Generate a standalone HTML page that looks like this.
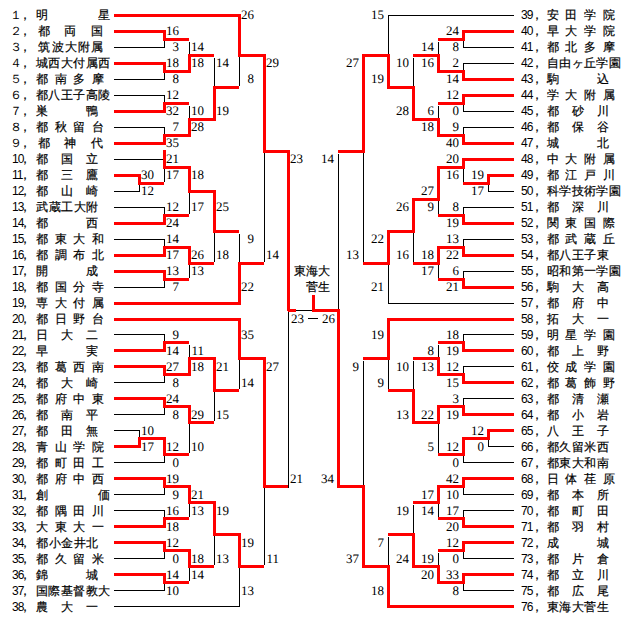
<!DOCTYPE html>
<html><head><meta charset="utf-8"><style>
html,body{margin:0;padding:0;background:#fff;width:640px;height:628px;overflow:hidden}
body{position:relative;font-family:"Liberation Sans",sans-serif}
i{position:absolute;display:block}
b{position:absolute;font-weight:normal;font-family:"Liberation Serif",serif;font-size:13px;line-height:16px;letter-spacing:0px;text-rendering:geometricPrecision;white-space:nowrap;color:#000}
b.sl{width:18px;text-align:right}
b.sr{width:18px;text-align:right}
u{position:absolute;text-decoration:none;-webkit-text-stroke:0.2px #000;font-size:12px;line-height:14px;width:12px;text-align:center;color:#000}
s{position:absolute;text-decoration:none;font-size:12px;line-height:14px;width:12px;text-align:center;color:#000}
s.d2{text-align:left;letter-spacing:-1px;width:auto}
.ch{position:absolute;-webkit-text-stroke:0.2px #000;font-size:12px;line-height:16px;text-align:right;color:#000}
</style></head><body>
<i style="left:238px;top:54px;width:28px;height:3px;background:#ff0000"></i>
<i style="left:114px;top:14px;width:127px;height:3px;background:#ff0000"></i>
<i style="left:213px;top:86px;width:26px;height:3px;background:#ff0000"></i>
<i style="left:188px;top:54px;width:26px;height:3px;background:#ff0000"></i>
<i style="left:163px;top:38px;width:26px;height:3px;background:#ff0000"></i>
<i style="left:114px;top:30px;width:52px;height:3px;background:#ff0000"></i>
<i style="left:114px;top:47px;width:51px;height:1px;background:#000000"></i>
<i style="left:164px;top:41px;width:1px;height:7px;background:#000000"></i>
<i style="left:163px;top:30px;width:3px;height:11px;background:#ff0000"></i>
<i style="left:163px;top:70px;width:28px;height:3px;background:#ff0000"></i>
<i style="left:114px;top:62px;width:52px;height:3px;background:#ff0000"></i>
<i style="left:114px;top:79px;width:51px;height:1px;background:#000000"></i>
<i style="left:164px;top:73px;width:1px;height:7px;background:#000000"></i>
<i style="left:163px;top:62px;width:3px;height:11px;background:#ff0000"></i>
<i style="left:189px;top:42px;width:1px;height:13px;background:#000000"></i>
<i style="left:188px;top:54px;width:3px;height:19px;background:#ff0000"></i>
<i style="left:188px;top:118px;width:28px;height:3px;background:#ff0000"></i>
<i style="left:163px;top:102px;width:26px;height:3px;background:#ff0000"></i>
<i style="left:114px;top:95px;width:51px;height:1px;background:#000000"></i>
<i style="left:114px;top:110px;width:52px;height:3px;background:#ff0000"></i>
<i style="left:164px;top:95px;width:1px;height:8px;background:#000000"></i>
<i style="left:163px;top:102px;width:3px;height:11px;background:#ff0000"></i>
<i style="left:163px;top:134px;width:28px;height:3px;background:#ff0000"></i>
<i style="left:114px;top:127px;width:51px;height:1px;background:#000000"></i>
<i style="left:114px;top:142px;width:52px;height:3px;background:#ff0000"></i>
<i style="left:164px;top:127px;width:1px;height:8px;background:#000000"></i>
<i style="left:163px;top:134px;width:3px;height:11px;background:#ff0000"></i>
<i style="left:189px;top:106px;width:1px;height:13px;background:#000000"></i>
<i style="left:188px;top:118px;width:3px;height:19px;background:#ff0000"></i>
<i style="left:214px;top:58px;width:1px;height:29px;background:#000000"></i>
<i style="left:213px;top:86px;width:3px;height:35px;background:#ff0000"></i>
<i style="left:239px;top:57px;width:1px;height:29px;background:#000000"></i>
<i style="left:238px;top:14px;width:3px;height:43px;background:#ff0000"></i>
<i style="left:238px;top:262px;width:26px;height:3px;background:#ff0000"></i>
<i style="left:213px;top:230px;width:26px;height:3px;background:#ff0000"></i>
<i style="left:188px;top:190px;width:28px;height:3px;background:#ff0000"></i>
<i style="left:163px;top:166px;width:28px;height:3px;background:#ff0000"></i>
<i style="left:114px;top:159px;width:51px;height:1px;background:#000000"></i>
<i style="left:138px;top:182px;width:26px;height:3px;background:#ff0000"></i>
<i style="left:114px;top:174px;width:27px;height:3px;background:#ff0000"></i>
<i style="left:114px;top:191px;width:26px;height:1px;background:#000000"></i>
<i style="left:139px;top:185px;width:1px;height:7px;background:#000000"></i>
<i style="left:138px;top:174px;width:3px;height:11px;background:#ff0000"></i>
<i style="left:164px;top:169px;width:1px;height:13px;background:#000000"></i>
<i style="left:163px;top:150px;width:3px;height:19px;background:#ff0000"></i>
<i style="left:163px;top:214px;width:26px;height:3px;background:#ff0000"></i>
<i style="left:114px;top:207px;width:51px;height:1px;background:#000000"></i>
<i style="left:114px;top:222px;width:52px;height:3px;background:#ff0000"></i>
<i style="left:164px;top:207px;width:1px;height:8px;background:#000000"></i>
<i style="left:163px;top:214px;width:3px;height:11px;background:#ff0000"></i>
<i style="left:189px;top:193px;width:1px;height:21px;background:#000000"></i>
<i style="left:188px;top:166px;width:3px;height:27px;background:#ff0000"></i>
<i style="left:188px;top:262px;width:26px;height:3px;background:#ff0000"></i>
<i style="left:163px;top:246px;width:28px;height:3px;background:#ff0000"></i>
<i style="left:114px;top:239px;width:51px;height:1px;background:#000000"></i>
<i style="left:114px;top:254px;width:52px;height:3px;background:#ff0000"></i>
<i style="left:164px;top:239px;width:1px;height:8px;background:#000000"></i>
<i style="left:163px;top:246px;width:3px;height:11px;background:#ff0000"></i>
<i style="left:163px;top:278px;width:26px;height:3px;background:#ff0000"></i>
<i style="left:114px;top:270px;width:52px;height:3px;background:#ff0000"></i>
<i style="left:114px;top:287px;width:51px;height:1px;background:#000000"></i>
<i style="left:164px;top:281px;width:1px;height:7px;background:#000000"></i>
<i style="left:163px;top:270px;width:3px;height:11px;background:#ff0000"></i>
<i style="left:189px;top:265px;width:1px;height:13px;background:#000000"></i>
<i style="left:188px;top:246px;width:3px;height:19px;background:#ff0000"></i>
<i style="left:214px;top:233px;width:1px;height:29px;background:#000000"></i>
<i style="left:213px;top:190px;width:3px;height:43px;background:#ff0000"></i>
<i style="left:114px;top:302px;width:127px;height:3px;background:#ff0000"></i>
<i style="left:239px;top:234px;width:1px;height:29px;background:#000000"></i>
<i style="left:238px;top:262px;width:3px;height:43px;background:#ff0000"></i>
<i style="left:264px;top:153px;width:1px;height:109px;background:#000000"></i>
<i style="left:263px;top:54px;width:3px;height:99px;background:#ff0000"></i>
<i style="left:238px;top:357px;width:28px;height:3px;background:#ff0000"></i>
<i style="left:114px;top:318px;width:127px;height:3px;background:#ff0000"></i>
<i style="left:213px;top:389px;width:26px;height:3px;background:#ff0000"></i>
<i style="left:188px;top:357px;width:28px;height:3px;background:#ff0000"></i>
<i style="left:163px;top:341px;width:26px;height:3px;background:#ff0000"></i>
<i style="left:114px;top:334px;width:51px;height:1px;background:#000000"></i>
<i style="left:114px;top:349px;width:52px;height:3px;background:#ff0000"></i>
<i style="left:164px;top:334px;width:1px;height:8px;background:#000000"></i>
<i style="left:163px;top:341px;width:3px;height:11px;background:#ff0000"></i>
<i style="left:163px;top:373px;width:28px;height:3px;background:#ff0000"></i>
<i style="left:114px;top:365px;width:52px;height:3px;background:#ff0000"></i>
<i style="left:114px;top:382px;width:51px;height:1px;background:#000000"></i>
<i style="left:164px;top:376px;width:1px;height:7px;background:#000000"></i>
<i style="left:163px;top:365px;width:3px;height:11px;background:#ff0000"></i>
<i style="left:189px;top:345px;width:1px;height:13px;background:#000000"></i>
<i style="left:188px;top:357px;width:3px;height:19px;background:#ff0000"></i>
<i style="left:188px;top:421px;width:26px;height:3px;background:#ff0000"></i>
<i style="left:163px;top:405px;width:28px;height:3px;background:#ff0000"></i>
<i style="left:114px;top:397px;width:52px;height:3px;background:#ff0000"></i>
<i style="left:114px;top:414px;width:51px;height:1px;background:#000000"></i>
<i style="left:164px;top:408px;width:1px;height:7px;background:#000000"></i>
<i style="left:163px;top:397px;width:3px;height:11px;background:#ff0000"></i>
<i style="left:163px;top:453px;width:26px;height:3px;background:#ff0000"></i>
<i style="left:138px;top:437px;width:28px;height:3px;background:#ff0000"></i>
<i style="left:114px;top:430px;width:26px;height:1px;background:#000000"></i>
<i style="left:114px;top:445px;width:27px;height:3px;background:#ff0000"></i>
<i style="left:139px;top:430px;width:1px;height:8px;background:#000000"></i>
<i style="left:138px;top:437px;width:3px;height:11px;background:#ff0000"></i>
<i style="left:114px;top:462px;width:51px;height:1px;background:#000000"></i>
<i style="left:164px;top:456px;width:1px;height:7px;background:#000000"></i>
<i style="left:163px;top:437px;width:3px;height:19px;background:#ff0000"></i>
<i style="left:189px;top:424px;width:1px;height:29px;background:#000000"></i>
<i style="left:188px;top:405px;width:3px;height:19px;background:#ff0000"></i>
<i style="left:214px;top:392px;width:1px;height:29px;background:#000000"></i>
<i style="left:213px;top:357px;width:3px;height:35px;background:#ff0000"></i>
<i style="left:239px;top:360px;width:1px;height:29px;background:#000000"></i>
<i style="left:238px;top:318px;width:3px;height:42px;background:#ff0000"></i>
<i style="left:238px;top:565px;width:26px;height:3px;background:#ff0000"></i>
<i style="left:213px;top:533px;width:28px;height:3px;background:#ff0000"></i>
<i style="left:188px;top:501px;width:28px;height:3px;background:#ff0000"></i>
<i style="left:163px;top:485px;width:28px;height:3px;background:#ff0000"></i>
<i style="left:114px;top:477px;width:52px;height:3px;background:#ff0000"></i>
<i style="left:114px;top:494px;width:51px;height:1px;background:#000000"></i>
<i style="left:164px;top:488px;width:1px;height:7px;background:#000000"></i>
<i style="left:163px;top:477px;width:3px;height:11px;background:#ff0000"></i>
<i style="left:163px;top:517px;width:26px;height:3px;background:#ff0000"></i>
<i style="left:114px;top:510px;width:51px;height:1px;background:#000000"></i>
<i style="left:114px;top:525px;width:52px;height:3px;background:#ff0000"></i>
<i style="left:164px;top:510px;width:1px;height:8px;background:#000000"></i>
<i style="left:163px;top:517px;width:3px;height:11px;background:#ff0000"></i>
<i style="left:189px;top:504px;width:1px;height:13px;background:#000000"></i>
<i style="left:188px;top:485px;width:3px;height:19px;background:#ff0000"></i>
<i style="left:188px;top:565px;width:26px;height:3px;background:#ff0000"></i>
<i style="left:163px;top:549px;width:28px;height:3px;background:#ff0000"></i>
<i style="left:114px;top:541px;width:52px;height:3px;background:#ff0000"></i>
<i style="left:114px;top:558px;width:51px;height:1px;background:#000000"></i>
<i style="left:164px;top:552px;width:1px;height:7px;background:#000000"></i>
<i style="left:163px;top:541px;width:3px;height:11px;background:#ff0000"></i>
<i style="left:163px;top:581px;width:26px;height:3px;background:#ff0000"></i>
<i style="left:114px;top:573px;width:52px;height:3px;background:#ff0000"></i>
<i style="left:114px;top:590px;width:51px;height:1px;background:#000000"></i>
<i style="left:164px;top:584px;width:1px;height:7px;background:#000000"></i>
<i style="left:163px;top:573px;width:3px;height:11px;background:#ff0000"></i>
<i style="left:189px;top:568px;width:1px;height:13px;background:#000000"></i>
<i style="left:188px;top:549px;width:3px;height:19px;background:#ff0000"></i>
<i style="left:214px;top:536px;width:1px;height:29px;background:#000000"></i>
<i style="left:213px;top:501px;width:3px;height:35px;background:#ff0000"></i>
<i style="left:114px;top:606px;width:126px;height:1px;background:#000000"></i>
<i style="left:239px;top:568px;width:1px;height:39px;background:#000000"></i>
<i style="left:238px;top:533px;width:3px;height:35px;background:#ff0000"></i>
<i style="left:264px;top:488px;width:1px;height:77px;background:#000000"></i>
<i style="left:263px;top:357px;width:3px;height:131px;background:#ff0000"></i>
<i style="left:362px;top:54px;width:28px;height:3px;background:#ff0000"></i>
<i style="left:388px;top:15px;width:126px;height:1px;background:#000000"></i>
<i style="left:387px;top:86px;width:28px;height:3px;background:#ff0000"></i>
<i style="left:413px;top:54px;width:27px;height:3px;background:#ff0000"></i>
<i style="left:438px;top:38px;width:27px;height:3px;background:#ff0000"></i>
<i style="left:462px;top:30px;width:52px;height:3px;background:#ff0000"></i>
<i style="left:463px;top:47px;width:51px;height:1px;background:#000000"></i>
<i style="left:463px;top:41px;width:1px;height:7px;background:#000000"></i>
<i style="left:462px;top:30px;width:3px;height:11px;background:#ff0000"></i>
<i style="left:437px;top:70px;width:28px;height:3px;background:#ff0000"></i>
<i style="left:463px;top:63px;width:51px;height:1px;background:#000000"></i>
<i style="left:462px;top:78px;width:52px;height:3px;background:#ff0000"></i>
<i style="left:463px;top:63px;width:1px;height:8px;background:#000000"></i>
<i style="left:462px;top:70px;width:3px;height:11px;background:#ff0000"></i>
<i style="left:438px;top:42px;width:1px;height:13px;background:#000000"></i>
<i style="left:437px;top:54px;width:3px;height:19px;background:#ff0000"></i>
<i style="left:412px;top:118px;width:28px;height:3px;background:#ff0000"></i>
<i style="left:438px;top:102px;width:27px;height:3px;background:#ff0000"></i>
<i style="left:462px;top:94px;width:52px;height:3px;background:#ff0000"></i>
<i style="left:463px;top:111px;width:51px;height:1px;background:#000000"></i>
<i style="left:463px;top:105px;width:1px;height:7px;background:#000000"></i>
<i style="left:462px;top:94px;width:3px;height:11px;background:#ff0000"></i>
<i style="left:437px;top:134px;width:28px;height:3px;background:#ff0000"></i>
<i style="left:463px;top:127px;width:51px;height:1px;background:#000000"></i>
<i style="left:462px;top:142px;width:52px;height:3px;background:#ff0000"></i>
<i style="left:463px;top:127px;width:1px;height:8px;background:#000000"></i>
<i style="left:462px;top:134px;width:3px;height:11px;background:#ff0000"></i>
<i style="left:438px;top:106px;width:1px;height:13px;background:#000000"></i>
<i style="left:437px;top:118px;width:3px;height:19px;background:#ff0000"></i>
<i style="left:413px;top:58px;width:1px;height:29px;background:#000000"></i>
<i style="left:412px;top:86px;width:3px;height:35px;background:#ff0000"></i>
<i style="left:388px;top:15px;width:1px;height:40px;background:#000000"></i>
<i style="left:387px;top:54px;width:3px;height:35px;background:#ff0000"></i>
<i style="left:363px;top:262px;width:27px;height:3px;background:#ff0000"></i>
<i style="left:387px;top:230px;width:28px;height:3px;background:#ff0000"></i>
<i style="left:412px;top:198px;width:28px;height:3px;background:#ff0000"></i>
<i style="left:437px;top:166px;width:28px;height:3px;background:#ff0000"></i>
<i style="left:462px;top:158px;width:52px;height:3px;background:#ff0000"></i>
<i style="left:463px;top:182px;width:27px;height:3px;background:#ff0000"></i>
<i style="left:487px;top:174px;width:27px;height:3px;background:#ff0000"></i>
<i style="left:488px;top:191px;width:26px;height:1px;background:#000000"></i>
<i style="left:488px;top:185px;width:1px;height:7px;background:#000000"></i>
<i style="left:487px;top:174px;width:3px;height:11px;background:#ff0000"></i>
<i style="left:463px;top:169px;width:1px;height:13px;background:#000000"></i>
<i style="left:462px;top:158px;width:3px;height:11px;background:#ff0000"></i>
<i style="left:438px;top:214px;width:27px;height:3px;background:#ff0000"></i>
<i style="left:463px;top:207px;width:51px;height:1px;background:#000000"></i>
<i style="left:462px;top:222px;width:52px;height:3px;background:#ff0000"></i>
<i style="left:463px;top:207px;width:1px;height:8px;background:#000000"></i>
<i style="left:462px;top:214px;width:3px;height:11px;background:#ff0000"></i>
<i style="left:438px;top:201px;width:1px;height:13px;background:#000000"></i>
<i style="left:437px;top:166px;width:3px;height:35px;background:#ff0000"></i>
<i style="left:413px;top:262px;width:27px;height:3px;background:#ff0000"></i>
<i style="left:437px;top:246px;width:28px;height:3px;background:#ff0000"></i>
<i style="left:463px;top:239px;width:51px;height:1px;background:#000000"></i>
<i style="left:462px;top:254px;width:52px;height:3px;background:#ff0000"></i>
<i style="left:463px;top:239px;width:1px;height:8px;background:#000000"></i>
<i style="left:462px;top:246px;width:3px;height:11px;background:#ff0000"></i>
<i style="left:438px;top:278px;width:27px;height:3px;background:#ff0000"></i>
<i style="left:463px;top:271px;width:51px;height:1px;background:#000000"></i>
<i style="left:462px;top:286px;width:52px;height:3px;background:#ff0000"></i>
<i style="left:463px;top:271px;width:1px;height:8px;background:#000000"></i>
<i style="left:462px;top:278px;width:3px;height:11px;background:#ff0000"></i>
<i style="left:438px;top:265px;width:1px;height:13px;background:#000000"></i>
<i style="left:437px;top:246px;width:3px;height:19px;background:#ff0000"></i>
<i style="left:413px;top:233px;width:1px;height:29px;background:#000000"></i>
<i style="left:412px;top:198px;width:3px;height:35px;background:#ff0000"></i>
<i style="left:388px;top:303px;width:126px;height:1px;background:#000000"></i>
<i style="left:388px;top:265px;width:1px;height:39px;background:#000000"></i>
<i style="left:387px;top:230px;width:3px;height:35px;background:#ff0000"></i>
<i style="left:363px;top:153px;width:1px;height:109px;background:#000000"></i>
<i style="left:362px;top:54px;width:3px;height:99px;background:#ff0000"></i>
<i style="left:363px;top:357px;width:27px;height:3px;background:#ff0000"></i>
<i style="left:387px;top:318px;width:127px;height:3px;background:#ff0000"></i>
<i style="left:388px;top:389px;width:27px;height:3px;background:#ff0000"></i>
<i style="left:413px;top:357px;width:27px;height:3px;background:#ff0000"></i>
<i style="left:438px;top:341px;width:27px;height:3px;background:#ff0000"></i>
<i style="left:463px;top:334px;width:51px;height:1px;background:#000000"></i>
<i style="left:462px;top:349px;width:52px;height:3px;background:#ff0000"></i>
<i style="left:463px;top:334px;width:1px;height:8px;background:#000000"></i>
<i style="left:462px;top:341px;width:3px;height:11px;background:#ff0000"></i>
<i style="left:437px;top:373px;width:28px;height:3px;background:#ff0000"></i>
<i style="left:463px;top:366px;width:51px;height:1px;background:#000000"></i>
<i style="left:462px;top:381px;width:52px;height:3px;background:#ff0000"></i>
<i style="left:463px;top:366px;width:1px;height:8px;background:#000000"></i>
<i style="left:462px;top:373px;width:3px;height:11px;background:#ff0000"></i>
<i style="left:438px;top:345px;width:1px;height:13px;background:#000000"></i>
<i style="left:437px;top:357px;width:3px;height:19px;background:#ff0000"></i>
<i style="left:412px;top:421px;width:28px;height:3px;background:#ff0000"></i>
<i style="left:437px;top:405px;width:28px;height:3px;background:#ff0000"></i>
<i style="left:463px;top:398px;width:51px;height:1px;background:#000000"></i>
<i style="left:462px;top:413px;width:52px;height:3px;background:#ff0000"></i>
<i style="left:463px;top:398px;width:1px;height:8px;background:#000000"></i>
<i style="left:462px;top:405px;width:3px;height:11px;background:#ff0000"></i>
<i style="left:438px;top:453px;width:27px;height:3px;background:#ff0000"></i>
<i style="left:462px;top:437px;width:28px;height:3px;background:#ff0000"></i>
<i style="left:487px;top:429px;width:27px;height:3px;background:#ff0000"></i>
<i style="left:488px;top:446px;width:26px;height:1px;background:#000000"></i>
<i style="left:488px;top:440px;width:1px;height:7px;background:#000000"></i>
<i style="left:487px;top:429px;width:3px;height:11px;background:#ff0000"></i>
<i style="left:463px;top:462px;width:51px;height:1px;background:#000000"></i>
<i style="left:463px;top:456px;width:1px;height:7px;background:#000000"></i>
<i style="left:462px;top:437px;width:3px;height:19px;background:#ff0000"></i>
<i style="left:438px;top:424px;width:1px;height:29px;background:#000000"></i>
<i style="left:437px;top:405px;width:3px;height:19px;background:#ff0000"></i>
<i style="left:413px;top:361px;width:1px;height:29px;background:#000000"></i>
<i style="left:412px;top:389px;width:3px;height:35px;background:#ff0000"></i>
<i style="left:388px;top:360px;width:1px;height:29px;background:#000000"></i>
<i style="left:387px;top:318px;width:3px;height:42px;background:#ff0000"></i>
<i style="left:362px;top:565px;width:28px;height:3px;background:#ff0000"></i>
<i style="left:388px;top:533px;width:27px;height:3px;background:#ff0000"></i>
<i style="left:413px;top:501px;width:27px;height:3px;background:#ff0000"></i>
<i style="left:437px;top:485px;width:28px;height:3px;background:#ff0000"></i>
<i style="left:462px;top:477px;width:52px;height:3px;background:#ff0000"></i>
<i style="left:463px;top:494px;width:51px;height:1px;background:#000000"></i>
<i style="left:463px;top:488px;width:1px;height:7px;background:#000000"></i>
<i style="left:462px;top:477px;width:3px;height:11px;background:#ff0000"></i>
<i style="left:438px;top:517px;width:27px;height:3px;background:#ff0000"></i>
<i style="left:463px;top:510px;width:51px;height:1px;background:#000000"></i>
<i style="left:462px;top:525px;width:52px;height:3px;background:#ff0000"></i>
<i style="left:463px;top:510px;width:1px;height:8px;background:#000000"></i>
<i style="left:462px;top:517px;width:3px;height:11px;background:#ff0000"></i>
<i style="left:438px;top:504px;width:1px;height:13px;background:#000000"></i>
<i style="left:437px;top:485px;width:3px;height:19px;background:#ff0000"></i>
<i style="left:412px;top:565px;width:28px;height:3px;background:#ff0000"></i>
<i style="left:438px;top:549px;width:27px;height:3px;background:#ff0000"></i>
<i style="left:462px;top:541px;width:52px;height:3px;background:#ff0000"></i>
<i style="left:463px;top:558px;width:51px;height:1px;background:#000000"></i>
<i style="left:463px;top:552px;width:1px;height:7px;background:#000000"></i>
<i style="left:462px;top:541px;width:3px;height:11px;background:#ff0000"></i>
<i style="left:437px;top:581px;width:28px;height:3px;background:#ff0000"></i>
<i style="left:462px;top:573px;width:52px;height:3px;background:#ff0000"></i>
<i style="left:463px;top:590px;width:51px;height:1px;background:#000000"></i>
<i style="left:463px;top:584px;width:1px;height:7px;background:#000000"></i>
<i style="left:462px;top:573px;width:3px;height:11px;background:#ff0000"></i>
<i style="left:438px;top:553px;width:1px;height:13px;background:#000000"></i>
<i style="left:437px;top:565px;width:3px;height:19px;background:#ff0000"></i>
<i style="left:413px;top:505px;width:1px;height:29px;background:#000000"></i>
<i style="left:412px;top:533px;width:3px;height:35px;background:#ff0000"></i>
<i style="left:387px;top:605px;width:127px;height:3px;background:#ff0000"></i>
<i style="left:388px;top:537px;width:1px;height:29px;background:#000000"></i>
<i style="left:387px;top:565px;width:3px;height:43px;background:#ff0000"></i>
<i style="left:363px;top:361px;width:1px;height:125px;background:#000000"></i>
<i style="left:362px;top:485px;width:3px;height:83px;background:#ff0000"></i>
<i style="left:263px;top:150px;width:27px;height:3px;background:#ff0000"></i>
<i style="left:263px;top:485px;width:25px;height:3px;background:#ff0000"></i>
<i style="left:288px;top:312px;width:1px;height:176px;background:#000000"></i>
<i style="left:287px;top:150px;width:3px;height:161px;background:#ff0000"></i>
<i style="left:338px;top:150px;width:27px;height:3px;background:#ff0000"></i>
<i style="left:337px;top:485px;width:28px;height:3px;background:#ff0000"></i>
<i style="left:338px;top:154px;width:1px;height:156px;background:#000000"></i>
<i style="left:337px;top:309px;width:3px;height:179px;background:#ff0000"></i>
<i style="left:296px;top:310px;width:17px;height:1px;background:#000000"></i>
<i style="left:288px;top:309px;width:8px;height:3px;background:#ff0000"></i>
<i style="left:312px;top:309px;width:28px;height:3px;background:#ff0000"></i>
<i style="left:312px;top:295px;width:3px;height:16px;background:#ff0000"></i>
<b class="sl" style="left:161px;top:23px">16</b>
<b class="sl" style="left:161px;top:39px">3</b>
<b class="sl" style="left:161px;top:55px">18</b>
<b class="sl" style="left:161px;top:71px">8</b>
<b class="sl" style="left:186px;top:39px">14</b>
<b class="sl" style="left:186px;top:55px">18</b>
<b class="sl" style="left:161px;top:87px">12</b>
<b class="sl" style="left:161px;top:103px">32</b>
<b class="sl" style="left:161px;top:119px">7</b>
<b class="sl" style="left:161px;top:135px">35</b>
<b class="sl" style="left:186px;top:103px">10</b>
<b class="sl" style="left:186px;top:119px">28</b>
<b class="sl" style="left:211px;top:55px">14</b>
<b class="sl" style="left:211px;top:103px">19</b>
<b class="sl" style="left:236px;top:7px">26</b>
<b class="sl" style="left:236px;top:71px">8</b>
<b class="sl" style="left:136px;top:167px">30</b>
<b class="sl" style="left:136px;top:183px">12</b>
<b class="sl" style="left:161px;top:151px">21</b>
<b class="sl" style="left:161px;top:167px">17</b>
<b class="sl" style="left:161px;top:199px">12</b>
<b class="sl" style="left:161px;top:215px">24</b>
<b class="sl" style="left:186px;top:167px">18</b>
<b class="sl" style="left:186px;top:199px">17</b>
<b class="sl" style="left:161px;top:231px">14</b>
<b class="sl" style="left:161px;top:247px">17</b>
<b class="sl" style="left:161px;top:263px">13</b>
<b class="sl" style="left:161px;top:279px">7</b>
<b class="sl" style="left:186px;top:247px">26</b>
<b class="sl" style="left:186px;top:263px">13</b>
<b class="sl" style="left:211px;top:199px">25</b>
<b class="sl" style="left:211px;top:247px">18</b>
<b class="sl" style="left:236px;top:231px">9</b>
<b class="sl" style="left:236px;top:279px">22</b>
<b class="sl" style="left:261px;top:55px">29</b>
<b class="sl" style="left:261px;top:247px">14</b>
<b class="sl" style="left:161px;top:327px">9</b>
<b class="sl" style="left:161px;top:343px">14</b>
<b class="sl" style="left:161px;top:359px">27</b>
<b class="sl" style="left:161px;top:375px">8</b>
<b class="sl" style="left:186px;top:343px">11</b>
<b class="sl" style="left:186px;top:359px">18</b>
<b class="sl" style="left:161px;top:391px">24</b>
<b class="sl" style="left:161px;top:407px">8</b>
<b class="sl" style="left:136px;top:423px">10</b>
<b class="sl" style="left:136px;top:439px">17</b>
<b class="sl" style="left:161px;top:439px">12</b>
<b class="sl" style="left:161px;top:455px">0</b>
<b class="sl" style="left:186px;top:407px">29</b>
<b class="sl" style="left:186px;top:439px">10</b>
<b class="sl" style="left:211px;top:359px">21</b>
<b class="sl" style="left:211px;top:407px">15</b>
<b class="sl" style="left:236px;top:327px">35</b>
<b class="sl" style="left:236px;top:375px">14</b>
<b class="sl" style="left:161px;top:471px">19</b>
<b class="sl" style="left:161px;top:487px">9</b>
<b class="sl" style="left:161px;top:503px">16</b>
<b class="sl" style="left:161px;top:519px">18</b>
<b class="sl" style="left:186px;top:487px">21</b>
<b class="sl" style="left:186px;top:503px">13</b>
<b class="sl" style="left:161px;top:535px">12</b>
<b class="sl" style="left:161px;top:551px">0</b>
<b class="sl" style="left:161px;top:567px">14</b>
<b class="sl" style="left:161px;top:583px">10</b>
<b class="sl" style="left:186px;top:551px">18</b>
<b class="sl" style="left:186px;top:567px">14</b>
<b class="sl" style="left:211px;top:503px">19</b>
<b class="sl" style="left:211px;top:551px">13</b>
<b class="sl" style="left:236px;top:535px">19</b>
<b class="sl" style="left:236px;top:583px">13</b>
<b class="sl" style="left:261px;top:359px">27</b>
<b class="sl" style="left:261px;top:551px">11</b>
<b class="sr" style="left:441px;top:23px">24</b>
<b class="sr" style="left:441px;top:39px">8</b>
<b class="sr" style="left:441px;top:55px">2</b>
<b class="sr" style="left:441px;top:71px">14</b>
<b class="sr" style="left:416px;top:39px">14</b>
<b class="sr" style="left:416px;top:55px">16</b>
<b class="sr" style="left:441px;top:87px">12</b>
<b class="sr" style="left:441px;top:103px">0</b>
<b class="sr" style="left:441px;top:119px">9</b>
<b class="sr" style="left:441px;top:135px">40</b>
<b class="sr" style="left:416px;top:103px">6</b>
<b class="sr" style="left:416px;top:119px">18</b>
<b class="sr" style="left:391px;top:55px">10</b>
<b class="sr" style="left:391px;top:103px">28</b>
<b class="sr" style="left:366px;top:7px">15</b>
<b class="sr" style="left:366px;top:71px">19</b>
<b class="sr" style="left:466px;top:167px">19</b>
<b class="sr" style="left:466px;top:183px">17</b>
<b class="sr" style="left:441px;top:151px">20</b>
<b class="sr" style="left:441px;top:167px">16</b>
<b class="sr" style="left:441px;top:199px">8</b>
<b class="sr" style="left:441px;top:215px">19</b>
<b class="sr" style="left:416px;top:183px">27</b>
<b class="sr" style="left:416px;top:199px">9</b>
<b class="sr" style="left:441px;top:231px">13</b>
<b class="sr" style="left:441px;top:247px">22</b>
<b class="sr" style="left:441px;top:263px">6</b>
<b class="sr" style="left:441px;top:279px">21</b>
<b class="sr" style="left:416px;top:247px">18</b>
<b class="sr" style="left:416px;top:263px">17</b>
<b class="sr" style="left:391px;top:199px">26</b>
<b class="sr" style="left:391px;top:247px">16</b>
<b class="sr" style="left:366px;top:231px">22</b>
<b class="sr" style="left:366px;top:279px">21</b>
<b class="sr" style="left:341px;top:55px">27</b>
<b class="sr" style="left:341px;top:247px">13</b>
<b class="sr" style="left:441px;top:327px">18</b>
<b class="sr" style="left:441px;top:343px">19</b>
<b class="sr" style="left:441px;top:359px">12</b>
<b class="sr" style="left:441px;top:375px">15</b>
<b class="sr" style="left:416px;top:343px">8</b>
<b class="sr" style="left:416px;top:359px">13</b>
<b class="sr" style="left:441px;top:391px">3</b>
<b class="sr" style="left:441px;top:407px">19</b>
<b class="sr" style="left:466px;top:423px">12</b>
<b class="sr" style="left:466px;top:439px">0</b>
<b class="sr" style="left:441px;top:439px">12</b>
<b class="sr" style="left:441px;top:455px">0</b>
<b class="sr" style="left:416px;top:407px">22</b>
<b class="sr" style="left:416px;top:439px">5</b>
<b class="sr" style="left:391px;top:359px">10</b>
<b class="sr" style="left:391px;top:407px">13</b>
<b class="sr" style="left:366px;top:327px">19</b>
<b class="sr" style="left:366px;top:375px">9</b>
<b class="sr" style="left:441px;top:471px">42</b>
<b class="sr" style="left:441px;top:487px">10</b>
<b class="sr" style="left:441px;top:503px">17</b>
<b class="sr" style="left:441px;top:519px">20</b>
<b class="sr" style="left:416px;top:487px">17</b>
<b class="sr" style="left:416px;top:503px">14</b>
<b class="sr" style="left:441px;top:535px">12</b>
<b class="sr" style="left:441px;top:551px">0</b>
<b class="sr" style="left:441px;top:567px">33</b>
<b class="sr" style="left:441px;top:583px">8</b>
<b class="sr" style="left:416px;top:551px">19</b>
<b class="sr" style="left:416px;top:567px">20</b>
<b class="sr" style="left:391px;top:503px">19</b>
<b class="sr" style="left:391px;top:551px">24</b>
<b class="sr" style="left:366px;top:535px">7</b>
<b class="sr" style="left:366px;top:583px">18</b>
<b class="sr" style="left:341px;top:359px">9</b>
<b class="sr" style="left:341px;top:551px">37</b>
<b class="sl" style="left:285px;top:151px">23</b>
<b class="sl" style="left:285px;top:471px">21</b>
<b class="sr" style="left:316px;top:151px">14</b>
<b class="sr" style="left:316px;top:471px">34</b>
<s style="left:9.5px;top:8px">１</s>
<u style="left:19px;top:8px">，</u>
<u style="left:36.00px;top:8px">明</u><u style="left:98.00px;top:8px">星</u>
<s style="left:9.5px;top:24px">２</s>
<u style="left:19px;top:24px">，</u>
<u style="left:37.60px;top:24px">都</u><u style="left:64.30px;top:24px">両</u><u style="left:91.00px;top:24px">国</u>
<s style="left:9.5px;top:40px">３</s>
<u style="left:19px;top:40px">，</u>
<u style="left:38.40px;top:40px">筑</u><u style="left:51.55px;top:40px">波</u><u style="left:64.70px;top:40px">大</u><u style="left:77.85px;top:40px">附</u><u style="left:91.00px;top:40px">属</u>
<s style="left:9.5px;top:56px">４</s>
<u style="left:19px;top:56px">，</u>
<u style="left:36.00px;top:56px">城</u><u style="left:48.40px;top:56px">西</u><u style="left:60.80px;top:56px">大</u><u style="left:73.20px;top:56px">付</u><u style="left:85.60px;top:56px">属</u><u style="left:98.00px;top:56px">西</u>
<s style="left:9.5px;top:72px">５</s>
<u style="left:19px;top:72px">，</u>
<u style="left:36.00px;top:72px">都</u><u style="left:54.67px;top:72px">南</u><u style="left:73.33px;top:72px">多</u><u style="left:92.00px;top:72px">摩</u>
<s style="left:9.5px;top:88px">６</s>
<u style="left:19px;top:88px">，</u>
<u style="left:36.00px;top:88px">都</u><u style="left:48.40px;top:88px">八</u><u style="left:60.80px;top:88px">王</u><u style="left:73.20px;top:88px">子</u><u style="left:85.60px;top:88px">高</u><u style="left:98.00px;top:88px">陵</u>
<s style="left:9.5px;top:104px">７</s>
<u style="left:19px;top:104px">，</u>
<u style="left:36.00px;top:104px">巣</u><u style="left:86.00px;top:104px">鴨</u>
<s style="left:9.5px;top:120px">８</s>
<u style="left:19px;top:120px">，</u>
<u style="left:36.00px;top:120px">都</u><u style="left:54.67px;top:120px">秋</u><u style="left:73.33px;top:120px">留</u><u style="left:92.00px;top:120px">台</u>
<s style="left:9.5px;top:136px">９</s>
<u style="left:19px;top:136px">，</u>
<u style="left:37.60px;top:136px">都</u><u style="left:64.30px;top:136px">神</u><u style="left:91.00px;top:136px">代</u>
<s class="d2" style="left:12px;top:152px">10</s>
<u style="left:19px;top:152px">，</u>
<u style="left:36.00px;top:152px">都</u><u style="left:61.00px;top:152px">国</u><u style="left:86.00px;top:152px">立</u>
<s class="d2" style="left:12px;top:168px">11</s>
<u style="left:19px;top:168px">，</u>
<u style="left:36.00px;top:168px">都</u><u style="left:61.00px;top:168px">三</u><u style="left:86.00px;top:168px">鷹</u>
<s class="d2" style="left:12px;top:184px">12</s>
<u style="left:19px;top:184px">，</u>
<u style="left:36.00px;top:184px">都</u><u style="left:61.00px;top:184px">山</u><u style="left:86.00px;top:184px">崎</u>
<s class="d2" style="left:12px;top:200px">13</s>
<u style="left:19px;top:200px">，</u>
<u style="left:36.00px;top:200px">武</u><u style="left:48.50px;top:200px">蔵</u><u style="left:61.00px;top:200px">工</u><u style="left:73.50px;top:200px">大</u><u style="left:86.00px;top:200px">附</u>
<s class="d2" style="left:12px;top:216px">14</s>
<u style="left:19px;top:216px">，</u>
<u style="left:36.00px;top:216px">都</u><u style="left:86.00px;top:216px">西</u>
<s class="d2" style="left:12px;top:232px">15</s>
<u style="left:19px;top:232px">，</u>
<u style="left:36.00px;top:232px">都</u><u style="left:54.67px;top:232px">東</u><u style="left:73.33px;top:232px">大</u><u style="left:92.00px;top:232px">和</u>
<s class="d2" style="left:12px;top:248px">16</s>
<u style="left:19px;top:248px">，</u>
<u style="left:36.00px;top:248px">都</u><u style="left:54.67px;top:248px">調</u><u style="left:73.33px;top:248px">布</u><u style="left:92.00px;top:248px">北</u>
<s class="d2" style="left:12px;top:264px">17</s>
<u style="left:19px;top:264px">，</u>
<u style="left:36.00px;top:264px">開</u><u style="left:86.00px;top:264px">成</u>
<s class="d2" style="left:12px;top:280px">18</s>
<u style="left:19px;top:280px">，</u>
<u style="left:36.00px;top:280px">都</u><u style="left:54.67px;top:280px">国</u><u style="left:73.33px;top:280px">分</u><u style="left:92.00px;top:280px">寺</u>
<s class="d2" style="left:12px;top:296px">19</s>
<u style="left:19px;top:296px">，</u>
<u style="left:36.00px;top:296px">専</u><u style="left:54.67px;top:296px">大</u><u style="left:73.33px;top:296px">付</u><u style="left:92.00px;top:296px">属</u>
<s class="d2" style="left:12px;top:312px">20</s>
<u style="left:19px;top:312px">，</u>
<u style="left:36.00px;top:312px">都</u><u style="left:54.67px;top:312px">日</u><u style="left:73.33px;top:312px">野</u><u style="left:92.00px;top:312px">台</u>
<s class="d2" style="left:12px;top:328px">21</s>
<u style="left:19px;top:328px">，</u>
<u style="left:36.00px;top:328px">日</u><u style="left:61.00px;top:328px">大</u><u style="left:86.00px;top:328px">二</u>
<s class="d2" style="left:12px;top:344px">22</s>
<u style="left:19px;top:344px">，</u>
<u style="left:36.00px;top:344px">早</u><u style="left:86.00px;top:344px">実</u>
<s class="d2" style="left:12px;top:360px">23</s>
<u style="left:19px;top:360px">，</u>
<u style="left:36.00px;top:360px">都</u><u style="left:54.67px;top:360px">葛</u><u style="left:73.33px;top:360px">西</u><u style="left:92.00px;top:360px">南</u>
<s class="d2" style="left:12px;top:376px">24</s>
<u style="left:19px;top:376px">，</u>
<u style="left:36.00px;top:376px">都</u><u style="left:61.00px;top:376px">大</u><u style="left:86.00px;top:376px">崎</u>
<s class="d2" style="left:12px;top:392px">25</s>
<u style="left:19px;top:392px">，</u>
<u style="left:36.00px;top:392px">都</u><u style="left:54.67px;top:392px">府</u><u style="left:73.33px;top:392px">中</u><u style="left:92.00px;top:392px">東</u>
<s class="d2" style="left:12px;top:408px">26</s>
<u style="left:19px;top:408px">，</u>
<u style="left:36.00px;top:408px">都</u><u style="left:61.00px;top:408px">南</u><u style="left:86.00px;top:408px">平</u>
<s class="d2" style="left:12px;top:424px">27</s>
<u style="left:19px;top:424px">，</u>
<u style="left:36.00px;top:424px">都</u><u style="left:61.00px;top:424px">田</u><u style="left:86.00px;top:424px">無</u>
<s class="d2" style="left:12px;top:440px">28</s>
<u style="left:19px;top:440px">，</u>
<u style="left:36.00px;top:440px">青</u><u style="left:54.67px;top:440px">山</u><u style="left:73.33px;top:440px">学</u><u style="left:92.00px;top:440px">院</u>
<s class="d2" style="left:12px;top:456px">29</s>
<u style="left:19px;top:456px">，</u>
<u style="left:36.00px;top:456px">都</u><u style="left:54.67px;top:456px">町</u><u style="left:73.33px;top:456px">田</u><u style="left:92.00px;top:456px">工</u>
<s class="d2" style="left:12px;top:472px">30</s>
<u style="left:19px;top:472px">，</u>
<u style="left:36.00px;top:472px">都</u><u style="left:54.67px;top:472px">府</u><u style="left:73.33px;top:472px">中</u><u style="left:92.00px;top:472px">西</u>
<s class="d2" style="left:12px;top:488px">31</s>
<u style="left:19px;top:488px">，</u>
<u style="left:36.00px;top:488px">創</u><u style="left:98.00px;top:488px">価</u>
<s class="d2" style="left:12px;top:504px">32</s>
<u style="left:19px;top:504px">，</u>
<u style="left:36.00px;top:504px">都</u><u style="left:54.67px;top:504px">隅</u><u style="left:73.33px;top:504px">田</u><u style="left:92.00px;top:504px">川</u>
<s class="d2" style="left:12px;top:520px">33</s>
<u style="left:19px;top:520px">，</u>
<u style="left:36.00px;top:520px">大</u><u style="left:54.67px;top:520px">東</u><u style="left:73.33px;top:520px">大</u><u style="left:92.00px;top:520px">一</u>
<s class="d2" style="left:12px;top:536px">34</s>
<u style="left:19px;top:536px">，</u>
<u style="left:36.00px;top:536px">都</u><u style="left:48.50px;top:536px">小</u><u style="left:61.00px;top:536px">金</u><u style="left:73.50px;top:536px">井</u><u style="left:86.00px;top:536px">北</u>
<s class="d2" style="left:12px;top:552px">35</s>
<u style="left:19px;top:552px">，</u>
<u style="left:36.00px;top:552px">都</u><u style="left:54.67px;top:552px">久</u><u style="left:73.33px;top:552px">留</u><u style="left:92.00px;top:552px">米</u>
<s class="d2" style="left:12px;top:568px">36</s>
<u style="left:19px;top:568px">，</u>
<u style="left:36.00px;top:568px">錦</u><u style="left:86.00px;top:568px">城</u>
<s class="d2" style="left:12px;top:584px">37</s>
<u style="left:19px;top:584px">，</u>
<u style="left:36.00px;top:584px">国</u><u style="left:48.40px;top:584px">際</u><u style="left:60.80px;top:584px">基</u><u style="left:73.20px;top:584px">督</u><u style="left:85.60px;top:584px">教</u><u style="left:98.00px;top:584px">大</u>
<s class="d2" style="left:12px;top:600px">38</s>
<u style="left:19px;top:600px">，</u>
<u style="left:36.00px;top:600px">農</u><u style="left:61.00px;top:600px">大</u><u style="left:86.00px;top:600px">一</u>
<s class="d2" style="left:521px;top:8px">39</s>
<u style="left:531px;top:8px">，</u>
<u style="left:546.80px;top:8px">安</u><u style="left:565.47px;top:8px">田</u><u style="left:584.13px;top:8px">学</u><u style="left:602.80px;top:8px">院</u>
<s class="d2" style="left:521px;top:24px">40</s>
<u style="left:531px;top:24px">，</u>
<u style="left:546.80px;top:24px">早</u><u style="left:565.47px;top:24px">大</u><u style="left:584.13px;top:24px">学</u><u style="left:602.80px;top:24px">院</u>
<s class="d2" style="left:521px;top:40px">41</s>
<u style="left:531px;top:40px">，</u>
<u style="left:546.80px;top:40px">都</u><u style="left:565.47px;top:40px">北</u><u style="left:584.13px;top:40px">多</u><u style="left:602.80px;top:40px">摩</u>
<s class="d2" style="left:521px;top:56px">42</s>
<u style="left:531px;top:56px">，</u>
<u style="left:546.80px;top:56px">自</u><u style="left:559.20px;top:56px">由</u><u style="left:571.60px;top:56px">ヶ</u><u style="left:584.00px;top:56px">丘</u><u style="left:596.40px;top:56px">学</u><u style="left:608.80px;top:56px">園</u>
<s class="d2" style="left:521px;top:72px">43</s>
<u style="left:531px;top:72px">，</u>
<u style="left:546.80px;top:72px">駒</u><u style="left:596.80px;top:72px">込</u>
<s class="d2" style="left:521px;top:88px">44</s>
<u style="left:531px;top:88px">，</u>
<u style="left:546.80px;top:88px">学</u><u style="left:565.47px;top:88px">大</u><u style="left:584.13px;top:88px">附</u><u style="left:602.80px;top:88px">属</u>
<s class="d2" style="left:521px;top:104px">45</s>
<u style="left:531px;top:104px">，</u>
<u style="left:546.80px;top:104px">都</u><u style="left:571.80px;top:104px">砂</u><u style="left:596.80px;top:104px">川</u>
<s class="d2" style="left:521px;top:120px">46</s>
<u style="left:531px;top:120px">，</u>
<u style="left:546.80px;top:120px">都</u><u style="left:571.80px;top:120px">保</u><u style="left:596.80px;top:120px">谷</u>
<s class="d2" style="left:521px;top:136px">47</s>
<u style="left:531px;top:136px">，</u>
<u style="left:546.80px;top:136px">城</u><u style="left:596.80px;top:136px">北</u>
<s class="d2" style="left:521px;top:152px">48</s>
<u style="left:531px;top:152px">，</u>
<u style="left:546.80px;top:152px">中</u><u style="left:565.47px;top:152px">大</u><u style="left:584.13px;top:152px">附</u><u style="left:602.80px;top:152px">属</u>
<s class="d2" style="left:521px;top:168px">49</s>
<u style="left:531px;top:168px">，</u>
<u style="left:546.80px;top:168px">都</u><u style="left:565.47px;top:168px">江</u><u style="left:584.13px;top:168px">戸</u><u style="left:602.80px;top:168px">川</u>
<s class="d2" style="left:521px;top:184px">50</s>
<u style="left:531px;top:184px">，</u>
<u style="left:546.80px;top:184px">科</u><u style="left:559.20px;top:184px">学</u><u style="left:571.60px;top:184px">技</u><u style="left:584.00px;top:184px">術</u><u style="left:596.40px;top:184px">学</u><u style="left:608.80px;top:184px">園</u>
<s class="d2" style="left:521px;top:200px">51</s>
<u style="left:531px;top:200px">，</u>
<u style="left:546.80px;top:200px">都</u><u style="left:571.80px;top:200px">深</u><u style="left:596.80px;top:200px">川</u>
<s class="d2" style="left:521px;top:216px">52</s>
<u style="left:531px;top:216px">，</u>
<u style="left:546.80px;top:216px">関</u><u style="left:565.47px;top:216px">東</u><u style="left:584.13px;top:216px">国</u><u style="left:602.80px;top:216px">際</u>
<s class="d2" style="left:521px;top:232px">53</s>
<u style="left:531px;top:232px">，</u>
<u style="left:546.80px;top:232px">都</u><u style="left:565.47px;top:232px">武</u><u style="left:584.13px;top:232px">蔵</u><u style="left:602.80px;top:232px">丘</u>
<s class="d2" style="left:521px;top:248px">54</s>
<u style="left:531px;top:248px">，</u>
<u style="left:546.80px;top:248px">都</u><u style="left:559.30px;top:248px">八</u><u style="left:571.80px;top:248px">王</u><u style="left:584.30px;top:248px">子</u><u style="left:596.80px;top:248px">東</u>
<s class="d2" style="left:521px;top:264px">55</s>
<u style="left:531px;top:264px">，</u>
<u style="left:546.80px;top:264px">昭</u><u style="left:559.20px;top:264px">和</u><u style="left:571.60px;top:264px">第</u><u style="left:584.00px;top:264px">一</u><u style="left:596.40px;top:264px">学</u><u style="left:608.80px;top:264px">園</u>
<s class="d2" style="left:521px;top:280px">56</s>
<u style="left:531px;top:280px">，</u>
<u style="left:546.80px;top:280px">駒</u><u style="left:571.80px;top:280px">大</u><u style="left:596.80px;top:280px">高</u>
<s class="d2" style="left:521px;top:296px">57</s>
<u style="left:531px;top:296px">，</u>
<u style="left:546.80px;top:296px">都</u><u style="left:571.80px;top:296px">府</u><u style="left:596.80px;top:296px">中</u>
<s class="d2" style="left:521px;top:312px">58</s>
<u style="left:531px;top:312px">，</u>
<u style="left:546.80px;top:312px">拓</u><u style="left:571.80px;top:312px">大</u><u style="left:596.80px;top:312px">一</u>
<s class="d2" style="left:521px;top:328px">59</s>
<u style="left:531px;top:328px">，</u>
<u style="left:546.80px;top:328px">明</u><u style="left:565.47px;top:328px">星</u><u style="left:584.13px;top:328px">学</u><u style="left:602.80px;top:328px">園</u>
<s class="d2" style="left:521px;top:344px">60</s>
<u style="left:531px;top:344px">，</u>
<u style="left:546.80px;top:344px">都</u><u style="left:571.80px;top:344px">上</u><u style="left:596.80px;top:344px">野</u>
<s class="d2" style="left:521px;top:360px">61</s>
<u style="left:531px;top:360px">，</u>
<u style="left:546.80px;top:360px">佼</u><u style="left:565.47px;top:360px">成</u><u style="left:584.13px;top:360px">学</u><u style="left:602.80px;top:360px">園</u>
<s class="d2" style="left:521px;top:376px">62</s>
<u style="left:531px;top:376px">，</u>
<u style="left:546.80px;top:376px">都</u><u style="left:565.47px;top:376px">葛</u><u style="left:584.13px;top:376px">飾</u><u style="left:602.80px;top:376px">野</u>
<s class="d2" style="left:521px;top:392px">63</s>
<u style="left:531px;top:392px">，</u>
<u style="left:546.80px;top:392px">都</u><u style="left:571.80px;top:392px">清</u><u style="left:596.80px;top:392px">瀬</u>
<s class="d2" style="left:521px;top:408px">64</s>
<u style="left:531px;top:408px">，</u>
<u style="left:546.80px;top:408px">都</u><u style="left:571.80px;top:408px">小</u><u style="left:596.80px;top:408px">岩</u>
<s class="d2" style="left:521px;top:424px">65</s>
<u style="left:531px;top:424px">，</u>
<u style="left:546.80px;top:424px">八</u><u style="left:571.80px;top:424px">王</u><u style="left:596.80px;top:424px">子</u>
<s class="d2" style="left:521px;top:440px">66</s>
<u style="left:531px;top:440px">，</u>
<u style="left:546.80px;top:440px">都</u><u style="left:559.30px;top:440px">久</u><u style="left:571.80px;top:440px">留</u><u style="left:584.30px;top:440px">米</u><u style="left:596.80px;top:440px">西</u>
<s class="d2" style="left:521px;top:456px">67</s>
<u style="left:531px;top:456px">，</u>
<u style="left:546.80px;top:456px">都</u><u style="left:559.30px;top:456px">東</u><u style="left:571.80px;top:456px">大</u><u style="left:584.30px;top:456px">和</u><u style="left:596.80px;top:456px">南</u>
<s class="d2" style="left:521px;top:472px">68</s>
<u style="left:531px;top:472px">，</u>
<u style="left:546.80px;top:472px">日</u><u style="left:565.47px;top:472px">体</u><u style="left:584.13px;top:472px">荏</u><u style="left:602.80px;top:472px">原</u>
<s class="d2" style="left:521px;top:488px">69</s>
<u style="left:531px;top:488px">，</u>
<u style="left:546.80px;top:488px">都</u><u style="left:571.80px;top:488px">本</u><u style="left:596.80px;top:488px">所</u>
<s class="d2" style="left:521px;top:504px">70</s>
<u style="left:531px;top:504px">，</u>
<u style="left:546.80px;top:504px">都</u><u style="left:571.80px;top:504px">町</u><u style="left:596.80px;top:504px">田</u>
<s class="d2" style="left:521px;top:520px">71</s>
<u style="left:531px;top:520px">，</u>
<u style="left:546.80px;top:520px">都</u><u style="left:571.80px;top:520px">羽</u><u style="left:596.80px;top:520px">村</u>
<s class="d2" style="left:521px;top:536px">72</s>
<u style="left:531px;top:536px">，</u>
<u style="left:546.80px;top:536px">成</u><u style="left:596.80px;top:536px">城</u>
<s class="d2" style="left:521px;top:552px">73</s>
<u style="left:531px;top:552px">，</u>
<u style="left:546.80px;top:552px">都</u><u style="left:571.80px;top:552px">片</u><u style="left:596.80px;top:552px">倉</u>
<s class="d2" style="left:521px;top:568px">74</s>
<u style="left:531px;top:568px">，</u>
<u style="left:546.80px;top:568px">都</u><u style="left:571.80px;top:568px">立</u><u style="left:596.80px;top:568px">川</u>
<s class="d2" style="left:521px;top:584px">75</s>
<u style="left:531px;top:584px">，</u>
<u style="left:546.80px;top:584px">都</u><u style="left:571.80px;top:584px">広</u><u style="left:596.80px;top:584px">尾</u>
<s class="d2" style="left:521px;top:600px">76</s>
<u style="left:531px;top:600px">，</u>
<u style="left:546.80px;top:600px">東</u><u style="left:559.30px;top:600px">海</u><u style="left:571.80px;top:600px">大</u><u style="left:584.30px;top:600px">菅</u><u style="left:596.80px;top:600px">生</u>
<div class="ch" style="left:290px;top:263px;width:40px">東海大<br>菅生</div>
<b class="fs" style="left:291px;top:311px">23</b><i style="left:308px;top:318px;width:10px;height:1px;background:#000"></i><b class="fs" style="left:322px;top:311px">26</b>
</body></html>
